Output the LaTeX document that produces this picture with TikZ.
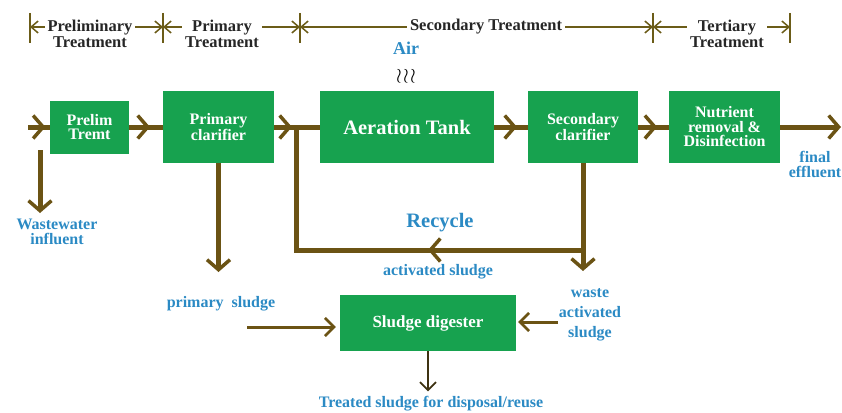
\documentclass[tikz,border=0pt]{standalone}
\usepackage{fontspec}
\setmainfont{Liberation Serif}
\usetikzlibrary{arrows.meta,decorations.markings,calc}
\definecolor{boxgreen}{HTML}{17A24F}
\definecolor{flowbrown}{HTML}{6B5314}
\definecolor{lblue}{HTML}{2B8AC4}
\definecolor{brkcol}{HTML}{6B5C18}
\definecolor{darkarr}{HTML}{3E3212}
\tikzset{
  btip/.tip={Straight Barb[length=10pt,width=23pt,line width=3.5pt]},
  stip/.tip={Straight Barb[length=9pt,width=18pt,line width=2.6pt]},
  ttip/.tip={Straight Barb[length=8pt,width=16pt,line width=1.8pt]},
  ktip/.tip={Straight Barb[length=7pt,width=12pt,line width=1.5pt]},
}
\begin{document}
\begin{tikzpicture}[x=1pt,y=-1pt,
  proc/.style={fill=boxgreen, text=white, font=\bfseries\fontsize{16}{14.5}\selectfont, align=center, inner sep=0pt, minimum height=72pt},
  lbl/.style={text=lblue, font=\bfseries\fontsize{16}{15}\selectfont, align=center, inner sep=1pt},
  seg/.style={fill=white, text=black!85, font=\bfseries\fontsize{16.5}{14}\selectfont, align=center, inner xsep=3pt, inner ysep=1pt},
  flow/.style={color=flowbrown, line width=5pt},
  midtip/.style={postaction={decorate}, decoration={markings, mark=at position #1 with {\arrow{btip}}}},
  sl/.style={color=flowbrown, line width=3pt, -{stip}},
  dk/.style={color=darkarr, line width=2pt, -{ttip}},
  brk/.style={color=brkcol, line width=1.6pt, {ktip}-{ktip}},
  tick/.style={color=brkcol, line width=1.8pt},
]
\useasboundingbox (0,0) rectangle (842,412);

% process boxes
\node[proc, minimum width=79pt, minimum height=53pt] (prelim) at (89.5,127) {Prelim\\Tremt};
\node[proc, minimum width=111pt] (primary) at (218.5,127) {Primary\\clarifier};
\node[proc, minimum width=174pt, font=\bfseries\fontsize{20.5}{20}\selectfont] (aer) at (407,127) {Aeration Tank};
\node[proc, minimum width=110pt] (sec) at (583,127) {Secondary\\clarifier};
\node[proc, minimum width=111pt] (nut) at (724.5,127) {Nutrient\\removal \&\\Disinfection};
\node[proc, minimum width=176pt, minimum height=56pt, font=\bfseries\fontsize{17}{17}\selectfont] (dig) at (428,323) {Sludge digester};

% labels
\node[lbl] (ww) at (57,232) {Wastewater\\influent};
\node[lbl] (ps) at (221,304) {primary\ \ sludge};
\node[lbl, font=\bfseries\fontsize{20.5}{20}\selectfont] (rec) at (440,223) {Recycle};
\node[lbl] (act) at (438,272) {activated sludge};
\node[lbl, font=\bfseries\fontsize{16}{20}\selectfont] (was) at (590,315) {waste\\activated\\sludge};
\node[lbl] (treat) at (431,404) {Treated sludge for disposal/reuse};
\node[lbl] (fe) at (815,164) {final\\effluent};
\node[lbl, inner sep=0pt, font=\bfseries\fontsize{18}{18}\selectfont] (air) at (406,48) {Air};
\node[inner sep=0pt, font=\fontsize{20}{20}\selectfont] (wr) at (406,76) {$\wr\mkern-3mu\wr\mkern-3mu\wr$};

% coordinates
\coordinate (in) at (28,127);
\coordinate (out) at (841,127);
\coordinate (j1) at (296,127);
\coordinate (rc1) at (296,250);
\coordinate (rc2) at (583,250);
\coordinate (wasend) at (583,271);
\coordinate (wwtop) at (40,150);
\coordinate (wwend) at (40,213);
\coordinate (psend) at (218.5,272);
\coordinate (psin) at (247,327);
\coordinate (wasin) at (558,322);

% main flow
\draw[flow, midtip=0.8] (in) -- (prelim);
\draw[flow, midtip=0.62] (prelim) -- (primary);
\draw[flow, midtip=0.39] (primary) -- (aer);
\draw[flow, midtip=0.68] (aer) -- (sec);
\draw[flow, midtip=0.62] (sec) -- (nut);
\draw[flow, -{btip}] (nut) -- (out);

% branches
\draw[flow, -{btip}] (wwtop) -- (wwend);
\draw[flow, -{btip}] (primary.south) -- (psend);
\draw[flow, -{btip}] (sec.south) -- (rc2) -- (wasend);
\draw[flow, midtip=0.378] (rc2) -- (rc1) -- (j1);

% sludge
\draw[sl, shorten >=4pt] (psin) -- (psin -| dig.west);
\draw[sl, shorten >=2pt] (wasin) -- (wasin -| dig.east);
\draw[dk, shorten >=4pt] (dig.south) -- (dig.south |- treat.north);

% top brackets
\coordinate (b0) at (30,27);
\coordinate (b1) at (163,27);
\coordinate (b2) at (300,27);
\coordinate (b3) at (653,27);
\coordinate (b4) at (790,27);
\draw[brk] (b0) -- (b1);
\draw[brk] (b1) -- (b2);
\draw[brk] (b2) -- (b3);
\draw[brk] (b3) -- (b4);
\foreach \b in {b0,b1,b2,b3,b4} \draw[tick] ($(\b)+(0,-14)$) -- ($(\b)+(0,16)$);
\node[seg] (s1) at (90,34) {Preliminary\\Treatment};
\node[seg] (s2) at (222,34) {Primary\\Treatment};
\node[seg] (s3) at (486,27) {Secondary Treatment};
\node[seg] (s4) at (727,34) {Tertiary\\Treatment};
\end{tikzpicture}
\end{document}
